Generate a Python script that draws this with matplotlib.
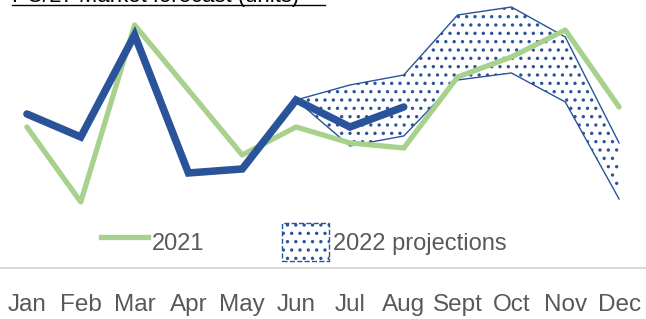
import numpy as np
import matplotlib.pyplot as plt
from matplotlib.lines import Line2D
from matplotlib.patches import Patch

months = ['Jan', 'Feb', 'Mar', 'Apr', 'May', 'Jun', 'Jul', 'Aug', 'Sept', 'Oct', 'Nov', 'Dec']
sales_2021 = [88, 13, 190, 125, 60, 88, 72, 67, 138, 158, 185, 108]
sales_2022 = [101, 78, 180, 42, 46, 115, 88, 108]
proj_months = ['Jun', 'Jul', 'Aug', 'Sept', 'Oct', 'Nov', 'Dec']
proj_high = [115, 130, 140, 200, 208, 178, 72]
proj_low = [115, 69, 79, 135, 142, 113, 16]

green = '#a9d18e'
blue = '#2a5399'
grey = '#595959'

plt.rcParams['font.family'] = ['Liberation Sans', 'DejaVu Sans']
plt.rcParams['hatch.linewidth'] = 1.2

fig = plt.figure(figsize=(6.46, 3.19), dpi=100)
ax = fig.add_axes([0, 0.16, 1, 0.84])

x = np.arange(len(months))
px = np.array([months.index(m) for m in proj_months])

ax.fill_between(px, proj_low, proj_high, facecolor='white', edgecolor=blue,
                linewidth=0, hatch='..', zorder=1)
ax.plot(px, proj_high, color=blue, lw=1, zorder=2)
ax.plot(px, proj_low, color=blue, lw=1, zorder=2)
ax.plot(x, sales_2021, color=green, lw=3.8, solid_capstyle='round', zorder=3)
ax.plot(x[:len(sales_2022)], sales_2022, color=blue, lw=5.4,
        solid_capstyle='round', solid_joinstyle='miter', zorder=4)

ax.set_xlim(-0.5, 11.5)
ax.set_ylim(-53, 215)
ax.set_yticks([])
ax.set_xticks(x)
ax.set_xticklabels(months, fontsize=17.5, color=grey,
                   family=['Liberation Sans Narrow', 'Liberation Sans'])
ax.tick_params(axis='x', length=0, pad=19)
for s in ['top', 'left', 'right']:
    ax.spines[s].set_visible(False)
ax.spines['bottom'].set_color('#d9d9d9')
ax.spines['bottom'].set_linewidth(1.5)

handles = [Line2D([0], [0], color=green, lw=3.8),
           Patch(facecolor='white', edgecolor=blue, hatch='..', linestyle='--', linewidth=1)]
ax.legend(handles, ['2021', '2022 projections'], loc='lower center',
          bbox_to_anchor=(0.47, -0.055), ncol=2, frameon=False, fontsize=17,
          labelcolor=grey, handlelength=2.0, handleheight=2.1,
          columnspacing=3.3, handletextpad=0.15)

fig.text(0.019, 1 - 2 / 319, 'PC/LT Market forecast (units)', fontsize=15.9,
         color='black', va='baseline', ha='left')
fig.add_artist(Line2D([12 / 646, 325 / 646], [1 - 4.5 / 319, 1 - 4.5 / 319],
                      color='black', lw=1, transform=fig.transFigure))

fig.savefig('out.png', dpi=100)
